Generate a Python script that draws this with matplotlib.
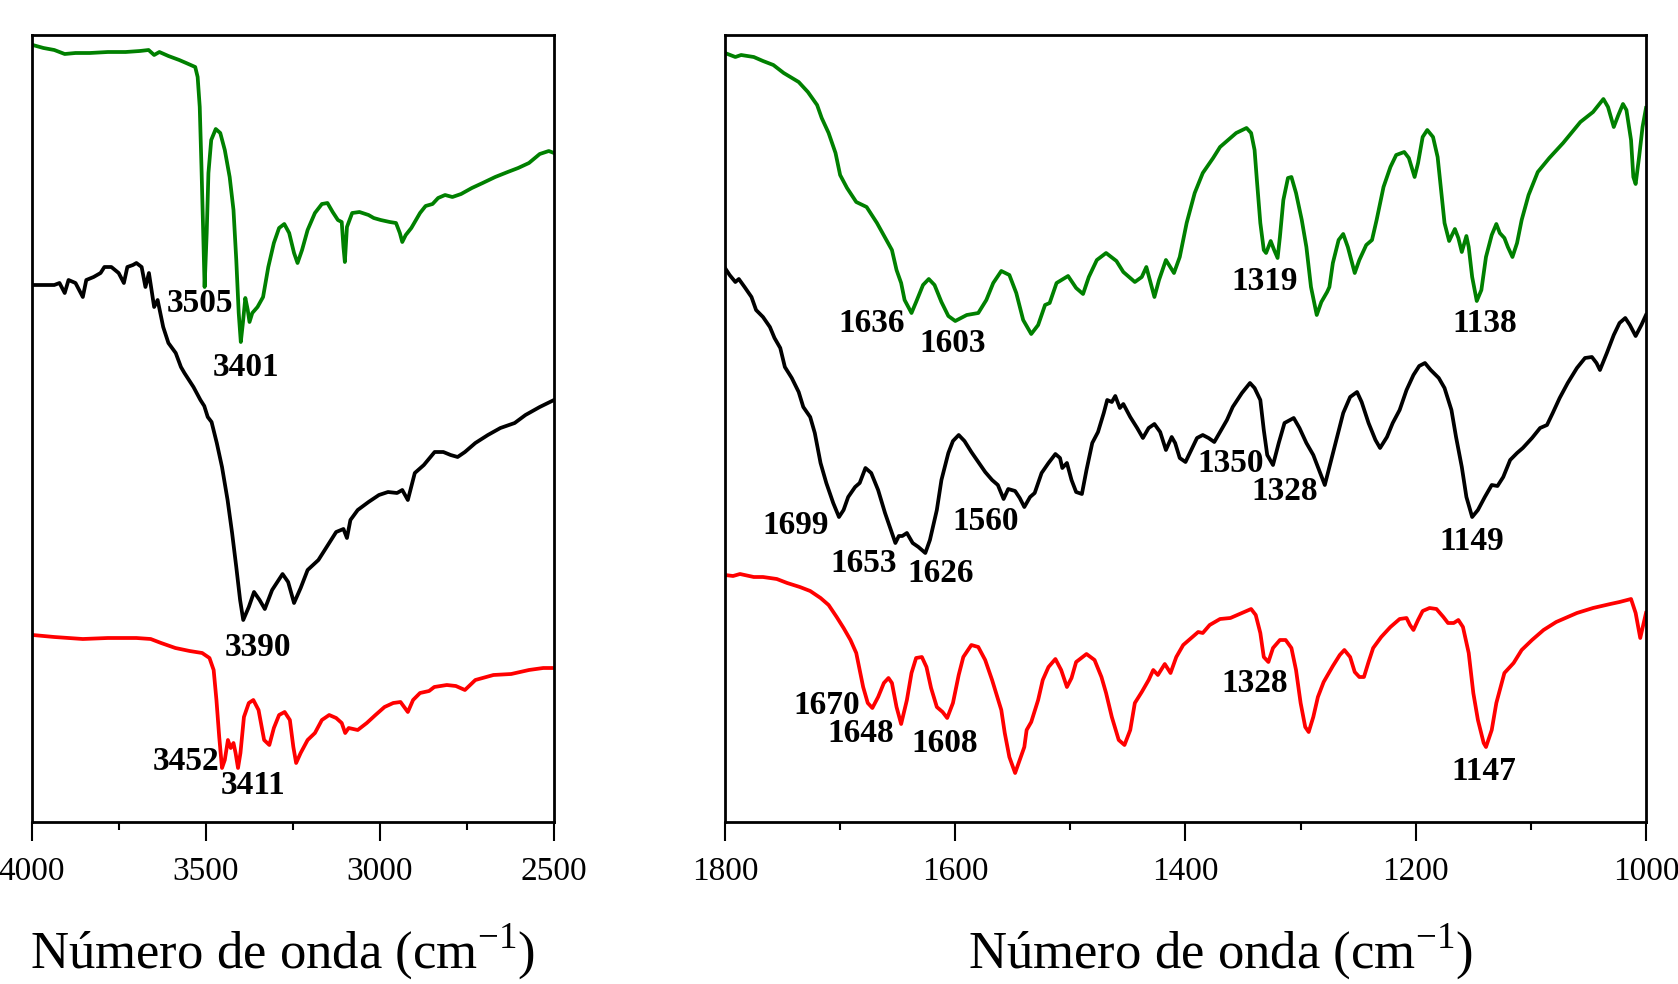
import matplotlib
matplotlib.use('Agg')
import matplotlib.pyplot as plt
from matplotlib.ticker import MultipleLocator

plt.rcParams['font.family'] = 'Liberation Serif'
plt.rcParams['mathtext.fontset'] = 'custom'
plt.rcParams['mathtext.rm'] = 'Liberation Serif'

# FTIR spectra, (wavenumber cm-1, transmittance a.u.)
# left panel: 4000-2500 cm-1
hi_green = [(3998, 777), (3967, 774), (3936, 772), (3906, 768), (3875, 769), (3834, 769),
            (3782, 770), (3731, 770), (3690, 771), (3665, 772), (3649, 767), (3634, 770),
            (3608, 766), (3577, 762), (3557, 759), (3531, 755), (3524, 745), (3518, 715),
            (3513, 655), (3508, 589), (3504, 535), (3498, 589), (3493, 649), (3485, 682),
            (3472, 693), (3459, 689), (3446, 672), (3432, 645), (3421, 612), (3413, 562),
            (3406, 509), (3400, 480), (3394, 499), (3387, 524), (3380, 512), (3375, 500),
            (3367, 509), (3352, 515), (3336, 525), (3321, 555), (3305, 579), (3290, 594),
            (3275, 598), (3261, 589), (3247, 569), (3237, 559), (3224, 572), (3208, 592),
            (3187, 609), (3167, 618), (3151, 619), (3136, 610), (3121, 602), (3110, 600),
            (3105, 575), (3101, 560), (3095, 595), (3080, 609), (3059, 610), (3033, 607),
            (3018, 604), (2998, 602), (2972, 600), (2954, 599), (2943, 589), (2936, 580),
            (2926, 587), (2910, 594), (2900, 600), (2885, 609), (2869, 616), (2849, 618),
            (2833, 624), (2813, 627), (2792, 625), (2767, 628), (2736, 634), (2705, 639),
            (2669, 645), (2633, 650), (2603, 654), (2572, 659), (2541, 668), (2515, 671),
            (2500, 669)]

hi_black = [(3998, 537), (3967, 537), (3936, 537), (3921, 539), (3906, 529), (3895, 542),
            (3875, 539), (3854, 525), (3844, 542), (3823, 545), (3803, 549), (3792, 555),
            (3772, 555), (3751, 549), (3736, 539), (3726, 555), (3710, 557), (3700, 559),
            (3685, 555), (3674, 535), (3664, 549), (3649, 515), (3639, 522), (3623, 495),
            (3608, 479), (3587, 469), (3572, 455), (3562, 449), (3536, 435), (3516, 422),
            (3505, 416), (3495, 405), (3484, 400), (3469, 379), (3454, 355), (3438, 322),
            (3425, 289), (3413, 255), (3402, 222), (3393, 202), (3377, 215), (3362, 230),
            (3346, 222), (3331, 213), (3310, 232), (3280, 248), (3264, 240), (3247, 219),
            (3228, 234), (3208, 252), (3177, 262), (3146, 279), (3126, 290), (3105, 293),
            (3095, 284), (3085, 302), (3064, 312), (3033, 320), (3003, 327), (2977, 330),
            (2951, 329), (2936, 332), (2920, 322), (2900, 349), (2874, 357), (2843, 370),
            (2818, 370), (2797, 367), (2777, 365), (2756, 370), (2726, 379), (2690, 387),
            (2654, 394), (2613, 399), (2582, 407), (2541, 415), (2500, 422)]

hi_red = [(3998, 187), (3936, 185), (3854, 183), (3782, 184), (3700, 184), (3659, 183),
          (3629, 179), (3588, 174), (3547, 171), (3511, 169), (3490, 164), (3478, 152),
          (3470, 122), (3462, 85), (3454, 54), (3446, 62), (3437, 82), (3429, 74),
          (3421, 79), (3415, 69), (3408, 54), (3401, 69), (3391, 105), (3377, 119),
          (3364, 122), (3349, 112), (3333, 82), (3318, 77), (3305, 94), (3290, 107),
          (3274, 110), (3259, 102), (3249, 75), (3241, 59), (3228, 69), (3208, 82),
          (3187, 89), (3167, 102), (3146, 107), (3126, 104), (3110, 99), (3100, 89),
          (3090, 94), (3064, 92), (3038, 99), (3013, 107), (2987, 115), (2962, 119),
          (2941, 120), (2920, 110), (2905, 122), (2885, 129), (2859, 131), (2844, 135),
          (2808, 137), (2782, 136), (2756, 132), (2726, 142), (2674, 147), (2623, 148),
          (2572, 152), (2531, 154), (2500, 154)]

# right panel: 1800-1000 cm-1
lo_green = [(1800, 765), (1791, 761), (1786, 763), (1775, 761), (1767, 757), (1758, 753),
            (1749, 745), (1736, 736), (1728, 726), (1720, 713), (1716, 700), (1710, 685),
            (1704, 665), (1700, 643), (1694, 630), (1686, 616), (1677, 611), (1668, 595),
            (1655, 568), (1651, 548), (1647, 535), (1644, 518), (1638, 505), (1634, 516),
            (1628, 533), (1623, 539), (1618, 533), (1612, 516), (1606, 502), (1600, 497),
            (1590, 503), (1580, 505), (1573, 518), (1567, 535), (1560, 547), (1553, 543),
            (1547, 525), (1541, 498), (1534, 484), (1528, 493), (1522, 513), (1518, 515),
            (1512, 535), (1502, 542), (1495, 530), (1489, 524), (1484, 541), (1477, 558),
            (1469, 565), (1460, 557), (1454, 546), (1444, 536), (1438, 541), (1434, 551),
            (1431, 538), (1427, 521), (1423, 538), (1417, 558), (1410, 545), (1405, 561),
            (1399, 595), (1392, 625), (1385, 645), (1376, 660), (1370, 671), (1361, 680),
            (1356, 685), (1347, 690), (1343, 685), (1340, 668), (1338, 638), (1335, 595),
            (1332, 568), (1330, 565), (1326, 577), (1323, 568), (1320, 560), (1318, 581),
            (1315, 618), (1311, 640), (1308, 641), (1304, 625), (1299, 598), (1295, 571),
            (1291, 531), (1286, 503), (1282, 516), (1277, 526), (1275, 531), (1272, 555),
            (1267, 578), (1263, 584), (1259, 571), (1253, 545), (1249, 558), (1243, 573),
            (1238, 578), (1234, 598), (1228, 631), (1222, 651), (1217, 663), (1210, 666),
            (1206, 660), (1201, 641), (1198, 655), (1194, 681), (1190, 688), (1185, 681),
            (1181, 661), (1178, 628), (1175, 595), (1171, 577), (1166, 589), (1163, 580),
            (1160, 566), (1156, 582), (1154, 571), (1151, 541), (1147, 517), (1143, 528),
            (1139, 561), (1134, 583), (1130, 594), (1127, 585), (1123, 580), (1120, 571),
            (1116, 561), (1112, 575), (1108, 598), (1102, 623), (1094, 646), (1084, 660),
            (1072, 675), (1057, 696), (1046, 706), (1037, 719), (1033, 711), (1028, 691),
            (1024, 703), (1020, 714), (1017, 708), (1013, 678), (1011, 641), (1009, 634),
            (1006, 661), (1003, 691), (1000, 710)]

lo_black = [(1800, 550), (1796, 543), (1791, 536), (1788, 539), (1783, 531), (1777, 521),
            (1773, 508), (1767, 501), (1761, 491), (1757, 480), (1752, 470), (1748, 451),
            (1742, 440), (1736, 426), (1732, 411), (1726, 401), (1722, 385), (1717, 355),
            (1712, 335), (1706, 315), (1701, 301), (1697, 308), (1693, 321), (1687, 331),
            (1683, 335), (1678, 350), (1673, 345), (1667, 328), (1661, 305), (1655, 285),
            (1652, 275), (1649, 282), (1646, 282), (1642, 285), (1637, 275), (1632, 271),
            (1626, 265), (1622, 278), (1616, 308), (1612, 338), (1606, 365), (1602, 377),
            (1597, 383), (1592, 377), (1586, 366), (1580, 356), (1574, 346), (1568, 338),
            (1563, 333), (1558, 319), (1554, 329), (1548, 327), (1544, 320), (1540, 311),
            (1535, 321), (1531, 325), (1525, 345), (1519, 355), (1513, 364), (1509, 360),
            (1507, 350), (1503, 355), (1499, 338), (1495, 326), (1490, 324), (1486, 348),
            (1481, 375), (1476, 386), (1471, 405), (1468, 418), (1464, 416), (1461, 422),
            (1457, 410), (1454, 414), (1448, 401), (1442, 390), (1437, 380), (1432, 390),
            (1427, 394), (1422, 386), (1417, 368), (1412, 381), (1409, 375), (1405, 360),
            (1400, 356), (1395, 368), (1390, 380), (1385, 383), (1380, 380), (1375, 376),
            (1370, 386), (1364, 398), (1359, 411), (1351, 425), (1344, 435), (1340, 430),
            (1335, 418), (1332, 388), (1329, 363), (1324, 353), (1319, 375), (1314, 395),
            (1306, 400), (1301, 390), (1295, 375), (1289, 363), (1283, 345), (1279, 333),
            (1275, 351), (1269, 378), (1263, 405), (1257, 421), (1251, 426), (1247, 416),
            (1241, 395), (1235, 378), (1231, 370), (1225, 381), (1220, 395), (1214, 408),
            (1208, 428), (1202, 443), (1197, 452), (1192, 455), (1187, 448), (1180, 440),
            (1175, 430), (1169, 408), (1165, 381), (1160, 351), (1156, 321), (1151, 301),
            (1146, 308), (1140, 321), (1134, 333), (1129, 332), (1124, 341), (1118, 358),
            (1112, 365), (1107, 370), (1099, 380), (1092, 390), (1086, 393), (1081, 405),
            (1075, 420), (1068, 435), (1060, 450), (1053, 460), (1047, 461), (1043, 455),
            (1040, 448), (1034, 465), (1028, 483), (1023, 495), (1018, 500), (1014, 493),
            (1009, 482), (1004, 493), (1000, 503)]

lo_red = [(1800, 243), (1793, 242), (1787, 244), (1775, 241), (1767, 241), (1755, 239),
          (1746, 235), (1735, 231), (1726, 227), (1717, 220), (1710, 213), (1703, 201),
          (1697, 190), (1691, 178), (1686, 165), (1683, 148), (1680, 131), (1676, 115),
          (1672, 110), (1667, 121), (1662, 135), (1658, 140), (1655, 135), (1651, 111),
          (1647, 94), (1642, 118), (1638, 145), (1634, 160), (1629, 161), (1625, 151),
          (1621, 130), (1616, 111), (1611, 106), (1607, 100), (1602, 115), (1597, 143),
          (1593, 161), (1586, 173), (1580, 171), (1574, 158), (1568, 138), (1564, 123),
          (1560, 108), (1557, 85), (1553, 61), (1548, 45), (1544, 58), (1540, 71),
          (1538, 88), (1534, 96), (1528, 118), (1524, 138), (1519, 151), (1513, 159),
          (1508, 148), (1503, 131), (1499, 140), (1495, 156), (1486, 164), (1479, 158),
          (1473, 141), (1469, 125), (1464, 101), (1458, 78), (1453, 73), (1448, 88),
          (1444, 115), (1438, 126), (1432, 138), (1428, 148), (1424, 143), (1418, 154),
          (1413, 145), (1408, 161), (1402, 173), (1396, 179), (1389, 186), (1385, 185),
          (1379, 193), (1370, 199), (1361, 200), (1353, 204), (1343, 209), (1339, 203),
          (1335, 185), (1332, 161), (1328, 156), (1324, 170), (1318, 178), (1313, 178),
          (1308, 170), (1304, 148), (1300, 115), (1296, 91), (1293, 86), (1289, 101),
          (1285, 121), (1280, 136), (1272, 152), (1266, 163), (1262, 168), (1257, 161),
          (1253, 146), (1249, 141), (1245, 141), (1241, 156), (1237, 170), (1230, 181),
          (1222, 191), (1214, 199), (1208, 200), (1205, 193), (1202, 188), (1198, 198),
          (1194, 207), (1188, 210), (1182, 209), (1176, 201), (1172, 195), (1167, 195),
          (1163, 198), (1159, 191), (1154, 165), (1150, 125), (1146, 98), (1141, 75),
          (1139, 71), (1134, 88), (1130, 115), (1123, 145), (1115, 155), (1108, 168),
          (1099, 178), (1089, 188), (1078, 196), (1060, 205), (1046, 210), (1031, 214),
          (1023, 216), (1013, 219), (1009, 205), (1005, 180), (1000, 205)]

# peak labels: (text, wavenumber, transmittance)
hi_labels = [('3505', 3516, 519), ('3401', 3384, 455), ('3390', 3352, 175),
             ('3452', 3557, 60), ('3411', 3365, 37)]
lo_labels = [('1636', 1673, 495), ('1603', 1602, 475), ('1319', 1331, 536), ('1138', 1140, 495),
             ('1699', 1739, 292), ('1653', 1680, 255), ('1626', 1613, 244), ('1560', 1574, 297),
             ('1350', 1361, 354), ('1328', 1314, 326), ('1149', 1151, 277),
             ('1670', 1712, 112), ('1648', 1682, 85), ('1608', 1609, 75),
             ('1328', 1340, 134), ('1147', 1141, 47)]

GREEN = '#008000'
RED = '#ff0000'

fig = plt.figure(figsize=(16.78, 9.84), dpi=100)
ax1 = fig.add_axes([32 / 1678, 1 - 822 / 984, 522 / 1678, 787 / 984])
ax2 = fig.add_axes([725 / 1678, 1 - 822 / 984, 921 / 1678, 787 / 984])


def draw(ax, series, labels, xlim, major, minor, ylim):
    for data, color in series:
        wn, t = zip(*data)
        ax.plot(wn, t, color=color, lw=2.7, solid_joinstyle='round')
    for txt, x, y in labels:
        ax.text(x, y, txt, ha='center', va='center', fontsize=24, fontweight='bold')
    ax.set_xlim(*xlim)
    ax.set_ylim(*ylim)
    ax.set_yticks([])
    ax.xaxis.set_major_locator(MultipleLocator(major))
    ax.xaxis.set_minor_locator(MultipleLocator(minor))
    ax.tick_params(axis='x', which='major', direction='out', length=14, width=1.5,
                   pad=11, labelsize=24)
    ax.tick_params(axis='x', which='minor', direction='out', length=6, width=1.5)
    for sp in ax.spines.values():
        sp.set_linewidth(2)


draw(ax1, [(hi_green, GREEN), (hi_black, 'black'), (hi_red, RED)], hi_labels,
     (4000, 2500), 500, 250, (0, 787))
draw(ax2, [(lo_green, GREEN), (lo_black, 'black'), (lo_red, RED)], lo_labels,
     (1800, 1000), 200, 100, (-4, 783))

label = 'Número de onda (cm$^{\\mathrm{-1}}$)'
fig.text(283 / 1678, 1 - 952 / 984, label, ha='center', va='center', fontsize=38)
fig.text(1221 / 1678, 1 - 952 / 984, label, ha='center', va='center', fontsize=38)

fig.savefig('out.png', dpi=100)
